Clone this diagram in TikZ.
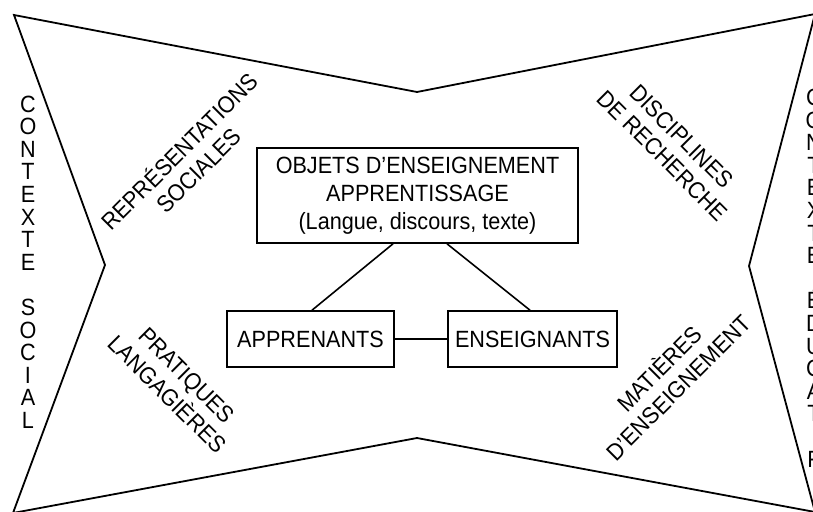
\documentclass[tikz,border=0pt]{standalone}
\usepackage{fontspec}
\setmainfont{Liberation Sans}[FakeStretch=0.92]
\begin{document}
\begin{tikzpicture}[x=1pt,y=-1pt,
  lbl/.style={font=\fontsize{23.5}{27}\selectfont, align=center, inner sep=0pt},
  col/.style={font=\fontsize{23.5}{22.6}\selectfont, align=center, inner sep=0pt},
  boxnode/.style={draw, line width=1.6pt, font=\fontsize{23.5}{28}\selectfont, align=center, inner sep=0pt},
  edge/.style={line width=1.6pt},
  outline/.style={line width=1.8pt, line join=miter}]
\useasboundingbox (0,0) rectangle (813,511);
\begin{scope}
\clip (0,0) rectangle (813,511);
% outline shape
\coordinate (tl) at (14,15);
\coordinate (tm) at (417,92);
\coordinate (tr) at (815,14);
\coordinate (rm) at (749,266);
\coordinate (br) at (815,512);
\coordinate (bm) at (417,438);
\coordinate (bl) at (13,513);
\coordinate (lm) at (105,265);
\draw[outline] (tl) -- (tm) -- (tr) -- (rm) -- (br) -- (bm) -- (bl) -- (lm) -- cycle;
% side columns
\node[col] (cs) at (28,262) {C\\O\\N\\T\\E\\X\\T\\E\\[22.6pt]S\\O\\C\\I\\A\\L};
\node[col] (ce) at (814,278) {C\\O\\N\\T\\E\\X\\T\\E\\[22.6pt]É\\D\\U\\C\\A\\T\\I\\F};
\end{scope}
% central boxes
\node[boxnode, minimum width=321pt, minimum height=95pt] (obj) at (417.5,195.5)
  {OBJETS D’ENSEIGNEMENT\\APPRENTISSAGE\\(Langue, discours, texte)};
\node[boxnode, minimum width=167pt, minimum height=56pt] (app) at (310.5,339) {APPRENANTS};
\node[boxnode, minimum width=169pt, minimum height=56pt] (ens) at (532.5,339) {ENSEIGNANTS};
\draw[edge] ([xshift=-24.5pt]obj.south) -- ([xshift=1.5pt]app.north);
\draw[edge] ([xshift=29.5pt]obj.south) -- ([xshift=-2.5pt]ens.north);
\draw[edge] (app.east) -- (ens.west);
% diagonal labels
\node[lbl, rotate=45] (rep) at (188,160) {REPRÉSENTATIONS\\SOCIALES};
\node[lbl, rotate=-45] (dis) at (672,146) {DISCIPLINES\\DE RECHERCHE};
\node[lbl, rotate=-45] (pra) at (177,385) {PRATIQUES\\LANGAGIÈRES};
\node[lbl, rotate=45] (mat) at (668,377) {MATIÈRES\\D’ENSEIGNEMENT};
\end{tikzpicture}
\end{document}
